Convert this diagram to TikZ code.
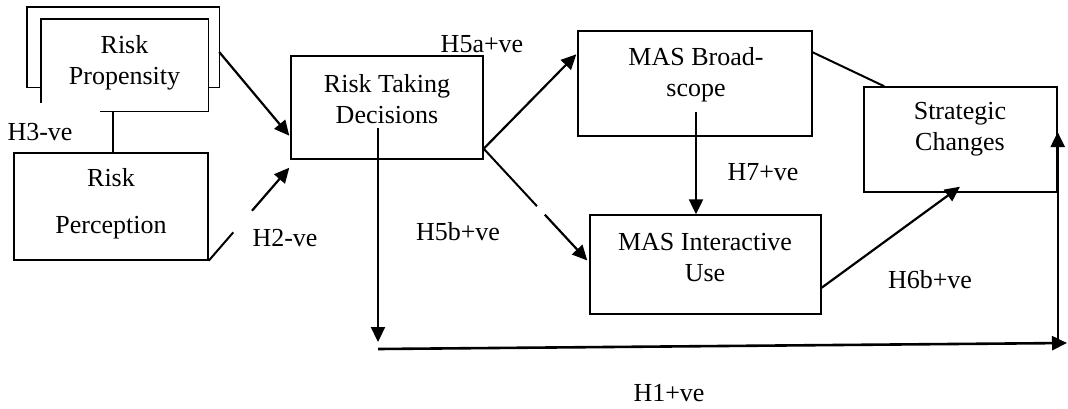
\documentclass[tikz,border=0pt]{standalone}
\usepackage{fontspec}
\setmainfont{Liberation Serif}
\usetikzlibrary{arrows.meta,calc}
\begin{document}
\begin{tikzpicture}[x=1pt,y=-1pt,
  box/.style={draw,line width=1.4pt,inner sep=0pt},
  hid/.style={inner sep=0pt},
  txt/.style={font=\fontsize{26}{31}\selectfont,align=center,inner sep=0pt},
  lbl/.style={font=\fontsize{26}{31}\selectfont,inner sep=0pt},
  ln/.style={line width=2pt},
  arr/.style={line width=2.2pt,-{Triangle[length=15pt,width=14pt]}}]
\useasboundingbox (0,0) rectangle (1068,408);
% boxes
\node[hid,minimum width=167pt,minimum height=92pt] (rp) at (124.5,65) {};
\draw[line width=1.4pt] ($(rp.south west)+(0,-8)$) -- (rp.north west) -- (rp.north east) -- (rp.south east) -- ($(rp.south west)+(59,0)$);
\draw[line width=1.4pt] ($(rp.south east)+(0,-24)$) -- ++(11,0) -- ($(rp.north east)+(11,-12)$) -- ($(rp.north west)+(-14,-12)$) -- ($(rp.south west)+(-14,-24)$) -- ++(14,0);
\node[txt] (rpt) at (124.5,62.5) {Risk\\Propensity};
\node[box,minimum width=194pt,minimum height=107pt] (rperc) at (111,206.5) {};
\node[txt] (rperct) at (111,203.5) {Risk\\[16pt]Perception};
\node[box,minimum width=192pt,minimum height=103pt] (rtd) at (387,107.5) {};
\node[txt] (rtdt) at (387,99) {Risk Taking\\Decisions};
\node[box,minimum width=234pt,minimum height=105pt] (masb) at (695,83.5) {};
\node[txt] (masbt) at (696,74.5) {MAS Broad-\\scope};
\node[box,minimum width=231pt,minimum height=99pt] (masi) at (705.5,264.5) {};
\node[txt] (masit) at (705,258) {MAS Interactive\\Use};
\node[box,minimum width=193pt,minimum height=105pt] (sc) at (960.5,139.5) {};
\node[txt] (sct) at (960,129.5) {Strategic\\Changes};
% labels
\node[lbl] (l3) at (40,132) {H3-ve};
\node[lbl] (l2) at (285,238) {H2-ve};
\node[lbl] (l5a) at (482,44) {H5a+ve};
\node[lbl] (l5b) at (458,232) {H5b+ve};
\node[lbl] (l7) at (763,172) {H7+ve};
\node[lbl] (l6b) at (930,280) {H6b+ve};
\node[lbl] (l1) at (669,393) {H1+ve};
% connectors
\draw[arr] ($(rp.east)+(11,-13)$) -- ($(rtd.south west)+(-1,-24)$);
\draw[ln] ($(rp.south)+(-11.5,0)$) -- ($(rperc.north)+(2,0)$);
\coordinate (h2tip) at ($(rtd.south west)+(-1,8)$);
\draw[ln] (rperc.south east) -- ($(rperc.south east)!0.305!(h2tip)$);
\draw[arr] ($(rperc.south east)!0.537!(h2tip)$) -- (h2tip);
\coordinate (h5s) at ($(rtd.south east)+(0,-11)$);
\draw[arr] (h5s) -- ($(masb.north west)+(-1,24)$);
\coordinate (h5btip) at ($(masi.west)+(-2,-4)$);
\draw[ln] (h5s) -- ($(h5s)!0.514!(h5btip)$);
\draw[arr] ($(h5s)!0.59!(h5btip)$) -- (h5btip);
\coordinate (h7s) at ($(masb.south)+(1,-25)$);
\draw[arr] (h7s) -- (h7s |- masi.north);
\draw[ln] ($(masb.north east)+(0,22)$) -- ($(sc.north west)+(21,0)$);
\draw[arr] ($(masi.south east)+(0,-27)$) -- ($(sc.south)+(-0.5,-6)$);
\coordinate (h1s) at (378,349);
\coordinate (h1e) at (1067,343);
\draw[arr] ($(rtd.center)+(-9,20.5)$) -- (h1s |- 0,342);
\draw[arr,line width=2.6pt] (h1s) -- (h1e);
\draw[arr] (sc.east |- h1e) -- ($(sc.east)+(0,-7.5)$);
\end{tikzpicture}
\end{document}
